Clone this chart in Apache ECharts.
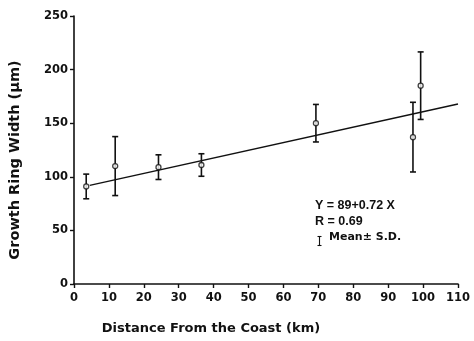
<!DOCTYPE html>
<html><head><meta charset="utf-8">
<script src="https://cdn.jsdelivr.net/npm/echarts@6/dist/echarts.min.js"></script>
<style>html,body{margin:0;padding:0;background:#fff}#c{width:474px;height:341px}</style>
</head><body><div id="c"></div>
<script>
const distance = [3.5, 11.8, 24.2, 36.5, 69.3, 97.1, 99.3];
const meanWidth = [91, 110, 109, 111, 150, 137, 185];
const sdWidth = [11.5, 27.5, 11.5, 10.5, 17.5, 32.5, 31.5];
const fitX = [4.5, 110];
const fitY = [92, 168];
const xTicks = [0,10,20,30,40,50,60,70,80,90,100,110];
const yTicks = [0,50,100,150,200,250];
const notes = ['Y = 89+0.72 X', 'R = 0.69', 'Mean± S.D.'];

const font = 'DejaVu Sans';
const chart = echarts.init(document.getElementById('c'));
const errData = distance.map((d,i)=>[d, meanWidth[i]-sdWidth[i], meanWidth[i]+sdWidth[i]]);
chart.setOption({
  animation:false,
  backgroundColor:'#fff',
  grid:{left:73, right:16, top:16, bottom:57},
  xAxis:{type:'value', min:0, max:110, interval:10,
    name:'Distance From the Coast (km)', nameLocation:'middle', nameGap:38,
    nameTextStyle:{fontFamily:font, fontWeight:'bold', fontSize:13, color:'#111', padding:[0,110,0,0]},
    axisLine:{lineStyle:{color:'#111', width:1.6}},
    axisTick:{show:true, length:4, lineStyle:{color:'#111', width:1.4}},
    axisLabel:{fontFamily:font, fontWeight:'bold', fontSize:11.5, color:'#111', margin:8,
      formatter:function(v){return xTicks.indexOf(v)>=0 ? String(v) : '';}},
    splitLine:{show:false}},
  yAxis:{type:'value', min:0, max:250, interval:50,
    name:'Growth Ring Width (μm)', nameLocation:'middle', nameGap:51, nameRotate:90,
    nameTextStyle:{fontFamily:font, fontWeight:'bold', fontSize:14.5, color:'#111', padding:[0,20,0,0]},
    axisLine:{show:true, lineStyle:{color:'#111', width:1.6}},
    axisTick:{show:true, length:4, lineStyle:{color:'#111', width:1.4}},
    axisLabel:{fontFamily:font, fontWeight:'bold', fontSize:11.5, color:'#111', margin:6,
      formatter:function(v){return yTicks.indexOf(v)>=0 ? String(v) : '';}},
    splitLine:{show:false}},
  series:[
    {type:'line', data:fitX.map((x,i)=>[x,fitY[i]]), symbol:'none',
      lineStyle:{color:'#111', width:1.5}, z:2},
    {type:'custom', data:errData, z:3,
      renderItem:function(params, api){
        const x = api.value(0);
        const lo = api.coord([x, api.value(1)]);
        const hi = api.coord([x, api.value(2)]);
        const w = 3;
        const st = {stroke:'#111', lineWidth:1.6};
        return {type:'group', children:[
          {type:'line', shape:{x1:lo[0],y1:lo[1],x2:hi[0],y2:hi[1]}, style:st},
          {type:'line', shape:{x1:lo[0]-w,y1:lo[1],x2:lo[0]+w,y2:lo[1]}, style:st},
          {type:'line', shape:{x1:hi[0]-w,y1:hi[1],x2:hi[0]+w,y2:hi[1]}, style:st}
        ]};
      }},
    {type:'scatter', data:distance.map((d,i)=>[d, meanWidth[i]]), symbol:'circle', symbolSize:5,
      itemStyle:{color:'#fff', borderColor:'#111', borderWidth:1.3}, z:4}
  ],
  graphic:[
    {type:'text', left:315, top:199, style:{text:notes[0], font:'bold 12.5px "Liberation Sans"', fill:'#111'}},
    {type:'text', left:315, top:215, style:{text:notes[1], font:'bold 12.5px "Liberation Sans"', fill:'#111'}},
    {type:'text', left:329, top:232, style:{text:notes[2], font:'bold 11px "DejaVu Sans"', fill:'#111'}},
    {type:'group', left:315, top:234, children:[
      {type:'line', shape:{x1:2,y1:0,x2:2,y2:9}, style:{stroke:'#111', lineWidth:1.1}},
      {type:'line', shape:{x1:0,y1:0,x2:4,y2:0}, style:{stroke:'#111', lineWidth:1.1}},
      {type:'line', shape:{x1:0,y1:9,x2:4,y2:9}, style:{stroke:'#111', lineWidth:1.1}}
    ]}
  ]
});
</script></body></html>
